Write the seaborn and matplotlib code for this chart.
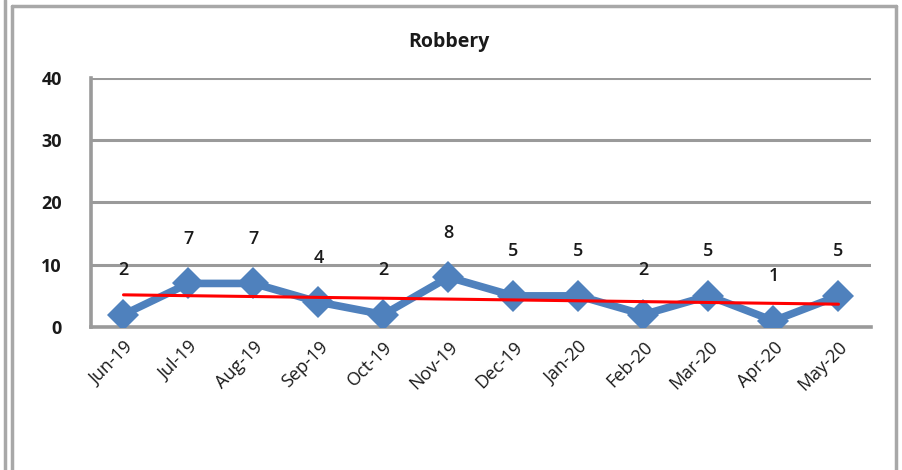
import matplotlib
matplotlib.use("Agg")
import matplotlib.pyplot as plt
import seaborn as sns
import numpy as np
import pandas as pd
from matplotlib.lines import Line2D

months = ["Jun-19", "Jul-19", "Aug-19", "Sep-19", "Oct-19", "Nov-19",
          "Dec-19", "Jan-20", "Feb-20", "Mar-20", "Apr-20", "May-20"]
robbery = [2, 7, 7, 4, 2, 8, 5, 5, 2, 5, 1, 5]
yticks = [0, 10, 20, 30, 40]
title = "Robbery"

sns.set_style("white")
plt.rcParams['font.family'] = ['Open Sans', 'DejaVu Sans']

df = pd.DataFrame({"month": months, "value": robbery, "idx": np.arange(len(months))})

fig = plt.figure(figsize=(9.03, 4.70), dpi=100)
ax = fig.add_axes([91/903, 1 - 327/470, (871 - 91)/903, (327 - 78)/470])

grid_c = "#9a9a9a"
for t in yticks[1:]:
    ax.axhline(t, color=grid_c, lw=2.2, zorder=0)

blue = "#4F81BD"
sns.lineplot(data=df, x="idx", y="value", ax=ax, color=blue, lw=5.5,
             marker="D", markersize=16, markeredgewidth=0, zorder=3)

# linear trend line
coef = np.polyfit(df["idx"], df["value"], 1)
trend = np.polyval(coef, df["idx"])
sns.lineplot(x=df["idx"], y=trend, ax=ax, color="#FF0000", lw=2.2, zorder=4)

for i, v in zip(df["idx"], df["value"]):
    ax.annotate(str(v), (i, v), xytext=(0, 32), textcoords="offset points",
                ha="center", va="center", fontsize=13, fontweight="semibold",
                color="#1a1a1a")

ax.set_xlim(-0.5, len(months) - 0.5)
ax.set_ylim(0, 40)
ax.set_yticks(yticks)
ax.set_yticklabels([str(t) for t in yticks], fontsize=13, fontweight="bold", color="#1a1a1a")
ax.set_xticks(np.arange(len(months)))
ax.set_xticklabels(months, rotation=45, ha="right", rotation_mode="anchor",
                   fontsize=13, color="#1a1a1a")
ax.set_xticks(np.arange(-0.5, len(months)), minor=True)
ax.tick_params(axis="x", which="major", length=0, pad=8)
ax.tick_params(axis="x", which="minor", length=7, width=2.2, color=grid_c, direction="out")
ax.tick_params(axis="y", length=7, width=2.2, color=grid_c, direction="out", pad=14)
ax.set_xlabel("")
ax.set_ylabel("")
for s in ["top", "right"]:
    ax.spines[s].set_visible(False)
for s in ["left", "bottom"]:
    ax.spines[s].set_color(grid_c)
    ax.spines[s].set_linewidth(2.6)

fig.text(449/903, 1 - 42/470, title, ha="center", va="center", fontsize=14,
         fontweight="bold", color="#1a1a1a")

# outer frames
fc = "#a8a8a8"
fig.add_artist(Line2D([5/903, 5/903], [0, 1], transform=fig.transFigure, color=fc, lw=2.5))
fig.add_artist(Line2D([12/903, 12/903], [0, 1 - 6/470], transform=fig.transFigure, color=fc, lw=2.5))
fig.add_artist(Line2D([12/903, 896/903], [1 - 6/470, 1 - 6/470], transform=fig.transFigure, color=fc, lw=2.5))
fig.add_artist(Line2D([896/903, 896/903], [0, 1 - 6/470], transform=fig.transFigure, color=fc, lw=2.5))

fig.savefig("out.png", dpi=100)
